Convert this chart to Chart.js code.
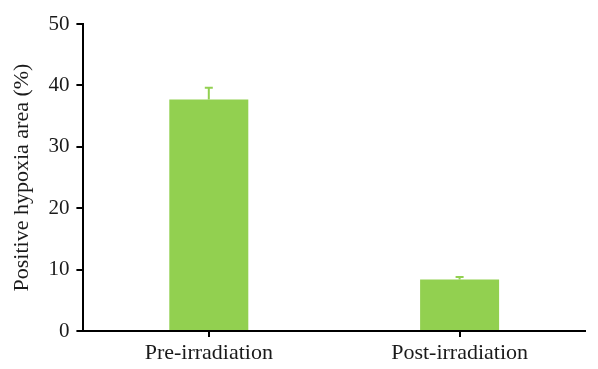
<!DOCTYPE html>
<html>
<head>
<meta charset="utf-8">
<script src="https://cdn.jsdelivr.net/npm/chart.js@4"></script>
<style>
  html, body { margin: 0; padding: 0; background: #fff; }
  #wrap { width: 598px; height: 369px; }
</style>
</head>
<body>
<div id="wrap"><canvas id="hypoxiaChart" width="598" height="369"></canvas></div>
<script>
// data
const categories = ['Pre-irradiation', 'Post-irradiation'];
const hypoxiaArea = [37.7, 8.4];
const hypoxiaErr = [1.9, 0.4];
const yTicks = [0, 10, 20, 30, 40, 50];

const barGreen = '#92D050';
const serif = "'Liberation Serif', 'DejaVu Serif', serif";

// upward-only error bars drawn on top of the bars
const errorBars = {
  id: 'errorBars',
  afterDatasetsDraw(chart) {
    const c = chart.ctx;
    const yScale = chart.scales.y;
    const meta = chart.getDatasetMeta(0);
    c.save();
    c.strokeStyle = barGreen;
    c.lineWidth = 2;
    meta.data.forEach((bar, i) => {
      const top = yScale.getPixelForValue(hypoxiaArea[i] + hypoxiaErr[i]);
      c.beginPath();
      c.moveTo(bar.x, bar.y);
      c.lineTo(bar.x, top);
      c.moveTo(bar.x - 4, top);
      c.lineTo(bar.x + 4, top);
      c.stroke();
    });
    c.restore();
  }
};

const ctx = document.getElementById('hypoxiaChart').getContext('2d');
const chart = new Chart(ctx, {
  type: 'bar',
  data: {
    labels: categories,
    datasets: [{
      data: hypoxiaArea,
      backgroundColor: barGreen,
      borderWidth: 0,
      barPercentage: 0.63,
      categoryPercentage: 0.5,
    }]
  },
  options: {
    responsive: false,
    animation: false,
    layout: { padding: { top: 24, right: 13, left: 3, bottom: 0 } },
    plugins: { legend: { display: false }, tooltip: { enabled: false } },
    scales: {
      x: {
        grid: { display: true, drawOnChartArea: false, offset: false, color: '#000', tickLength: 6, lineWidth: 2 },
        border: { color: '#000', width: 2 },
        ticks: { color: '#1a1a1a', font: { family: serif, size: 22, lineHeight: 1.0 }, padding: 5 }
      },
      y: {
        min: 0,
        max: 50,
        afterBuildTicks: axis => { axis.ticks = yTicks.map(v => ({ value: v })); },
        grid: { display: true, drawOnChartArea: false, color: '#000', tickLength: 7, lineWidth: 2 },
        border: { color: '#000', width: 2 },
        ticks: { color: '#1a1a1a', font: { family: serif, size: 21 }, padding: 7 },
        title: { display: true, text: 'Positive hypoxia area (%)', color: '#1a1a1a', font: { family: serif, size: 22 }, padding: 6 }
      }
    }
  },
  plugins: [errorBars]
});
</script>
</body>
</html>
